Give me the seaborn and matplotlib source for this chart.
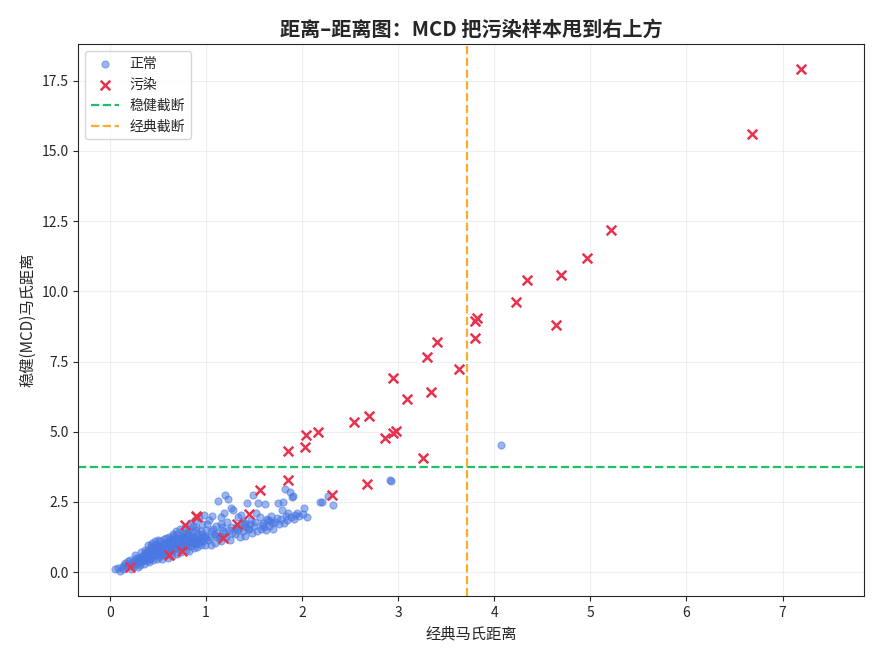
import seaborn as sns
from matplotlib import pyplot as plt
import numpy as np
import pandas as pd

# 正常样本 (经典距离, 稳健距离)
normal_x = [0.05, 0.08, 0.10, 0.12, 0.14, 0.15, 0.18,
            0.20, 0.22, 0.23, 0.25, 0.26, 0.28, 0.29,
            0.30, 0.31, 0.32, 0.33, 0.34, 0.35, 0.36, 0.37, 0.38, 0.39,
            0.40, 0.41, 0.42, 0.43, 0.44, 0.45, 0.46, 0.47, 0.48, 0.49,
            0.50, 0.51, 0.52, 0.53, 0.54, 0.55, 0.56, 0.57, 0.58, 0.59,
            0.60, 0.61, 0.62, 0.63, 0.64, 0.65, 0.66, 0.67, 0.68, 0.69,
            0.70, 0.71, 0.72, 0.73, 0.74, 0.75, 0.76, 0.77, 0.78, 0.79,
            0.80, 0.81, 0.82, 0.83, 0.84, 0.85, 0.86, 0.87, 0.88, 0.89,
            0.90, 0.91, 0.92, 0.93, 0.94, 0.95, 0.96, 0.97, 0.98, 0.99,
            1.00, 1.02, 1.03, 1.05, 1.06, 1.08, 1.09, 1.10, 1.12, 1.13,
            1.15, 1.16, 1.18, 1.19, 1.20, 1.21, 1.22, 1.23, 1.25, 1.26,
            1.28, 1.30, 1.31, 1.33, 1.35, 1.36, 1.38, 1.39, 1.41, 1.43,
            1.45, 1.47, 1.48, 1.49, 1.50, 1.52, 1.53, 1.54, 1.56, 1.57,
            1.59, 1.60, 1.61, 1.62, 1.64, 1.66, 1.68, 1.69, 1.70, 1.72,
            1.75, 1.76, 1.78, 1.79, 1.80, 1.81, 1.82, 1.84, 1.85, 1.87,
            1.88, 1.89, 1.90, 1.91, 1.93, 1.95, 1.97, 2.01, 2.02, 2.05,
            2.19, 2.21, 2.27, 2.32, 2.91, 2.92, 4.07,
            0.21, 0.24, 0.27, 0.30, 0.33, 0.35, 0.37, 0.39, 0.41, 0.43,
            0.45, 0.47, 0.49, 0.51, 0.53, 0.55, 0.57, 0.59, 0.61, 0.63,
            0.65, 0.67, 0.69, 0.71, 0.73, 0.75, 0.77, 0.79, 0.81, 0.83,
            0.85, 0.87, 0.89, 0.91, 0.93, 0.95, 0.97, 0.99, 1.01, 1.04,
            1.07, 1.11, 1.14, 1.17, 1.24, 1.27, 1.34, 1.37, 1.42, 1.46,
            0.16, 0.19, 0.26, 0.29, 0.32, 0.34, 0.36, 0.38, 0.40, 0.42,
            0.44, 0.46, 0.48, 0.50, 0.52, 0.54, 0.56, 0.58, 0.60, 0.62,
            0.64, 0.66, 0.68, 0.70, 0.72, 0.74, 0.76, 0.78, 0.80, 0.82,
            0.84, 0.86, 0.88, 0.92, 0.96, 1.00, 1.05, 1.10, 1.15, 1.20,
            1.26, 1.32, 1.40, 1.44, 1.51, 1.58, 1.63, 1.67, 1.74, 1.83,
            0.43, 0.47, 0.52, 0.56, 0.62, 0.66, 0.72, 0.78, 0.84, 0.90]
normal_y = [0.12, 0.15, 0.05, 0.18, 0.10, 0.25, 0.20,
            0.28, 0.12, 0.35, 0.22, 0.40, 0.30, 0.18,
            0.45, 0.25, 0.55, 0.38, 0.62, 0.30, 0.48, 0.70, 0.40, 0.58,
            0.80, 0.35, 0.65, 0.50, 0.90, 0.42, 0.75, 0.60, 1.00, 0.45,
            0.85, 0.55, 1.10, 0.70, 0.48, 0.95, 1.18, 0.62, 0.80, 1.05,
            0.52, 1.25, 0.90, 0.68, 1.12, 0.58, 1.35, 0.78, 1.00, 1.45,
            0.65, 1.20, 0.88, 1.55, 0.72, 1.05, 1.40, 0.95, 1.62, 0.80,
            1.30, 1.10, 0.75, 1.75, 0.92, 1.48, 1.20, 0.85, 1.85, 1.02,
            1.60, 0.88, 1.35, 1.95, 1.10, 0.95, 1.70, 1.25, 2.05, 0.98,
            1.50, 1.15, 1.85, 0.95, 2.00, 1.35, 1.05, 1.65, 2.55, 1.20,
            1.95, 1.10, 1.45, 2.10, 2.74, 1.25, 1.80, 2.62, 1.15, 2.30,
            2.20, 1.35, 1.60, 1.95, 1.25, 2.05, 1.45, 1.70, 1.30, 2.45,
            1.55, 1.85, 1.40, 2.74, 1.65, 2.10, 1.45, 2.45, 1.96, 1.55,
            1.75, 1.60, 2.42, 1.50, 1.85, 1.65, 2.00, 1.74, 1.55, 1.80,
            2.45, 1.70, 1.90, 2.20, 2.49, 1.75, 2.95, 1.85, 2.10, 2.85,
            1.95, 2.67, 2.70, 1.90, 2.05, 2.10, 2.00, 2.06, 2.28, 1.95,
            2.49, 2.49, 2.70, 2.38, 3.27, 3.25, 4.52,
            0.42, 0.30, 0.50, 0.35, 0.48, 0.58, 0.45, 0.68, 0.55, 0.72,
            0.60, 0.85, 0.70, 0.95, 0.82, 0.65, 1.00, 0.75, 0.95, 0.80,
            1.05, 0.90, 1.20, 0.98, 0.82, 1.25, 1.10, 0.92, 1.40, 1.05,
            1.30, 1.00, 1.50, 1.15, 1.05, 1.45, 1.10, 1.30, 1.70, 1.25,
            1.55, 1.40, 1.30, 1.60, 1.50, 1.40, 1.55, 1.80, 1.60, 1.70,
            0.32, 0.38, 0.60, 0.52, 0.70, 0.42, 0.80, 0.55, 0.95, 0.45,
            1.05, 0.68, 0.78, 1.15, 0.62, 0.88, 0.72, 1.22, 0.85, 1.08,
            0.92, 1.18, 0.85, 1.35, 1.10, 0.95, 1.30, 1.18, 1.05, 1.55,
            1.25, 1.65, 1.15, 1.22, 1.35, 1.20, 1.45, 1.28, 1.70, 1.38,
            1.62, 1.50, 1.75, 1.52, 1.80, 1.68, 1.90, 1.82, 1.92, 2.00,
            0.95, 1.10, 0.90, 1.02, 1.15, 1.28, 1.18, 1.35, 1.12, 1.25]

# 污染样本
outlier_x = [7.19, 6.68, 5.21, 4.97, 4.69, 4.34, 4.23, 4.64, 3.82, 3.80,
             3.80, 3.40, 3.30, 3.63, 2.95, 3.09, 3.34, 2.70, 2.54, 2.98,
             2.95, 2.86, 2.17, 2.04, 2.03, 1.85, 3.26, 1.85, 1.56, 2.67,
             2.31, 1.45, 1.32, 1.18, 0.21, 0.61, 0.75, 0.78, 0.89, 0.91]
outlier_y = [17.93, 15.62, 12.20, 11.17, 10.57, 10.39, 9.61, 8.79, 9.04, 8.95,
             8.32, 8.18, 7.65, 7.22, 6.90, 6.15, 6.40, 5.55, 5.34, 5.02,
             4.96, 4.77, 4.98, 4.87, 4.45, 4.30, 4.06, 3.27, 2.92, 3.13,
             2.74, 2.06, 1.70, 1.23, 0.18, 0.60, 0.75, 1.67, 2.00, 1.96]

robust_cut = 3.73
classic_cut = 3.72

df_n = pd.DataFrame({'md': normal_x, 'rd': normal_y})
df_o = pd.DataFrame({'md': outlier_x, 'rd': outlier_y})

sns.set_style('ticks')
plt.rcParams['font.family'] = ['Noto Sans CJK SC', 'DejaVu Sans']
plt.rcParams['axes.unicode_minus'] = False

fig, ax = plt.subplots(figsize=(8.8, 6.6), dpi=100)
sns.scatterplot(data=df_n, x='md', y='rd', color='#4a78e2', alpha=0.55,
                s=26, edgecolor='#4a78e2', linewidth=0.8, label='正常', ax=ax)
sns.scatterplot(data=df_o, x='md', y='rd', color='#e6334f', marker='x',
                s=48, linewidth=1.8, label='污染', ax=ax)
ax.axhline(robust_cut, color='#22c063', linestyle='--', linewidth=1.6, label='稳健截断')
ax.axvline(classic_cut, color='#f8ad2c', linestyle='--', linewidth=1.6, label='经典截断')

ax.set_xlim(-0.33, 7.85)
ax.set_ylim(-0.85, 18.8)
ax.grid(True, alpha=0.3)
ax.set_xlabel('经典马氏距离', fontsize=11)
ax.set_ylabel('稳健(MCD)马氏距离', fontsize=11)
ax.set_title('距离–距离图：MCD 把污染样本甩到右上方', fontsize=14.5, fontweight='bold')
ax.legend(loc='upper left', fontsize=10)
for s in ax.spines.values():
    s.set_visible(True)

plt.tight_layout()
plt.subplots_adjust(left=0.089, right=0.982, top=0.933, bottom=0.097)
plt.savefig('out.png')
